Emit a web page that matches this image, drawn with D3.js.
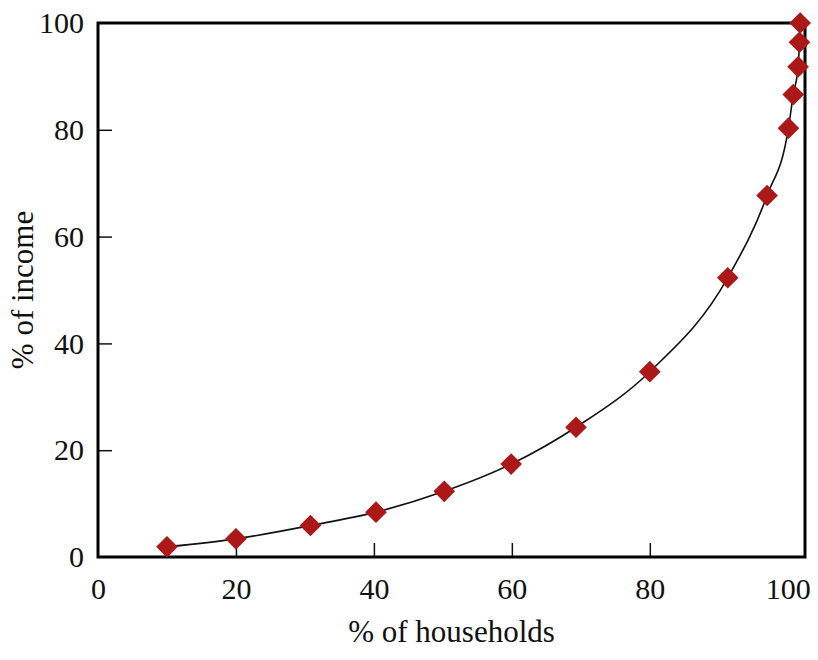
<!DOCTYPE html>
<html>
<head>
<meta charset="utf-8">
<script src="https://cdn.jsdelivr.net/npm/d3@7"></script>
<style>
  body { margin: 0; background: #fff; }
  text { font-family: "Liberation Serif", "DejaVu Serif", serif; fill: #111; }
</style>
</head>
<body>
<div class="chart"></div>
<script>
// values
var households = [10, 20, 30.8, 40.3, 50.2, 59.9, 69.3, 80, 91.3, 97, 100.1, 100.8, 101.5, 101.7, 101.8];
var income = [1.9, 3.4, 5.9, 8.4, 12.3, 17.4, 24.3, 34.7, 52.3, 67.7, 80.3, 86.6, 91.8, 96.4, 100];
var xTicks = [0, 20, 40, 60, 80, 100];
var yTicks = [0, 20, 40, 60, 80, 100];

var drawChart = function(){

  var width = 818,
      height = 660;

  var mLeft = 98, mRight = 805, mTop = 23, mBottom = 557;

  var points = households.map(function(d, i) { return { x: d, y: income[i] }; });

  var x = d3.scaleLinear().domain([0, 102.5]).range([mLeft, mRight]);
  var y = d3.scaleLinear().domain([0, 100]).range([mBottom, mTop]);

  var svg = d3.select(".chart").append("svg")
      .attr("width", width)
      .attr("height", height);

  // ticks point into the plot, labels outside
  var xAxis = svg.append("g")
      .attr("transform", "translate(0," + mBottom + ")")
      .call(d3.axisBottom(x).tickValues(xTicks).tickSize(-14).tickPadding(21));

  var yAxis = svg.append("g")
      .attr("transform", "translate(" + mLeft + ",0)")
      .call(d3.axisLeft(y).tickValues(yTicks).tickSize(-14).tickPadding(14));

  [xAxis, yAxis].forEach(function(g) {
    g.select(".domain").remove();
    g.selectAll(".tick line")
        .attr("stroke", "#111")
        .attr("stroke-width", 1.5)
        .filter(function(d) { return d === 0 || d === 100; })
        .remove();
    g.selectAll(".tick text")
        .style("font-family", "Liberation Serif")
        .style("font-size", "30px")
        .attr("fill", "#111");
  });

  // frame
  svg.append("rect")
      .attr("x", mLeft)
      .attr("y", mTop)
      .attr("width", mRight - mLeft)
      .attr("height", mBottom - mTop)
      .attr("fill", "none")
      .attr("stroke", "#000")
      .attr("stroke-width", 3);

  var line = d3.line()
      .x(function(d) { return x(d.x); })
      .y(function(d) { return y(d.y); })
      .curve(d3.curveMonotoneX);

  svg.append("path")
      .datum(points)
      .attr("d", line)
      .attr("fill", "none")
      .attr("stroke", "#111")
      .attr("stroke-width", 1.6);

  // rotated squares as diamonds
  var diamond = d3.symbol().type(d3.symbolSquare).size(235);

  svg.selectAll(".pt")
      .data(points)
      .enter()
      .append("path")
        .attr("class", "pt")
        .attr("d", diamond)
        .attr("transform", function(d) { return "translate(" + x(d.x) + "," + y(d.y) + ") rotate(45)"; })
        .attr("fill", "#ac1818");

  svg.append("text")
      .attr("x", (mLeft + mRight) / 2)
      .attr("y", 642)
      .attr("text-anchor", "middle")
      .style("font-size", "31px")
      .text("% of households");

  svg.append("text")
      .attr("transform", "translate(33," + ((mTop + mBottom) / 2) + ") rotate(-90)")
      .attr("text-anchor", "middle")
      .style("font-size", "31px")
      .text("% of income");
}

drawChart();
</script>
</body>
</html>
